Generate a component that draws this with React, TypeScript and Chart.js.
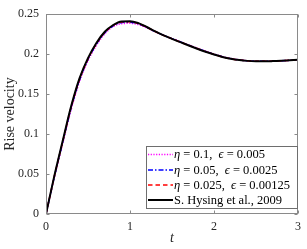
import React, { useEffect, useRef } from "react";
import { Chart, registerables } from "chart.js";

Chart.register(...registerables);

const timePoints = [0, 0.1, 0.2, 0.3, 0.4, 0.5, 0.6, 0.7, 0.8, 0.9, 1.0, 1.1, 1.2, 1.3, 1.4, 1.5, 1.6, 1.7, 1.8, 1.9, 2.0, 2.1, 2.2, 2.3, 2.4, 2.5, 2.6, 2.7, 2.8, 2.9, 3.0];

const eta01 = [0, 0.046, 0.089, 0.131, 0.166, 0.192, 0.211, 0.2255, 0.2345, 0.2382, 0.2386, 0.237, 0.233, 0.2282, 0.2237, 0.2196, 0.2156, 0.2115, 0.2075, 0.2037, 0.2002, 0.197, 0.1946, 0.1929, 0.1918, 0.1912, 0.191, 0.1912, 0.1917, 0.1922, 0.1928];
const eta005 = [0, 0.047, 0.0905, 0.133, 0.168, 0.1935, 0.2125, 0.2268, 0.2355, 0.2395, 0.2399, 0.238, 0.2335, 0.2283, 0.2236, 0.2194, 0.2153, 0.2112, 0.2072, 0.2034, 0.1999, 0.1968, 0.1944, 0.1927, 0.1917, 0.1911, 0.191, 0.1912, 0.1917, 0.1923, 0.1929];
const eta0025 = [0, 0.0475, 0.091, 0.134, 0.169, 0.194, 0.2133, 0.2274, 0.236, 0.2403, 0.2406, 0.2384, 0.2337, 0.2284, 0.2235, 0.2193, 0.2151, 0.211, 0.207, 0.2032, 0.1997, 0.1966, 0.1943, 0.1926, 0.1916, 0.1911, 0.191, 0.1913, 0.1918, 0.1924, 0.193];
const hysing2009 = [0, 0.048, 0.092, 0.135, 0.17, 0.195, 0.214, 0.228, 0.2365, 0.241, 0.2413, 0.2388, 0.234, 0.2285, 0.2235, 0.2192, 0.215, 0.2108, 0.2068, 0.203, 0.1995, 0.1965, 0.1942, 0.1926, 0.1916, 0.1911, 0.191, 0.1913, 0.1918, 0.1924, 0.193];

const seriesLabels = ["η = 0.1,  ϵ = 0.005", "η = 0.05,  ϵ = 0.0025", "η = 0.025,  ϵ = 0.00125", "S. Hysing et al., 2009"];
const xTicks = [0, 1, 2, 3];
const yTicks = [0, 0.05, 0.1, 0.15, 0.2, 0.25];
const xTitle = "t";
const yTitle = "Rise velocity";

const SERIF = "'Liberation Serif', 'DejaVu Serif', serif";
const AXIS_GRAY = "#8a8a8a";

function drawRich(ctx: CanvasRenderingContext2D, text: string, x: number, y: number, size: number) {
  let cx = x;
  const runs: { t: string; it: boolean }[] = [];
  for (const ch of text) {
    const it = /[\u03B1-\u03C9\u03F5]/.test(ch);
    if (runs.length && runs[runs.length - 1].it === it) runs[runs.length - 1].t += ch;
    else runs.push({ t: ch, it });
  }
  for (const r of runs) {
    ctx.font = `${r.it ? "italic " : ""}${size}px ${SERIF}`;
    ctx.fillText(r.t, cx, y);
    cx += ctx.measureText(r.t).width;
  }
}

const framePlugin = {
  id: "frame",
  afterDatasetsDraw(chart: any) {
    const { ctx, chartArea: a, scales } = chart;
    const xs = scales.x;
    const ys = scales.y;
    ctx.save();
    ctx.strokeStyle = AXIS_GRAY;
    ctx.lineWidth = 1;
    const L = Math.round(a.left) + 0.5;
    const R = Math.round(a.right) - 0.5;
    const T = Math.round(a.top) + 0.5;
    const B = Math.round(a.bottom) - 0.5;
    ctx.strokeRect(L, T, R - L, B - T);
    ctx.beginPath();
    for (const v of xTicks) {
      const px = Math.round(xs.getPixelForValue(v)) + 0.5;
      ctx.moveTo(px, B); ctx.lineTo(px, B - 3);
      ctx.moveTo(px, T); ctx.lineTo(px, T + 3);
    }
    for (const v of yTicks) {
      const py = Math.round(ys.getPixelForValue(v)) + 0.5;
      ctx.moveTo(L, py); ctx.lineTo(L + 3, py);
      ctx.moveTo(R, py); ctx.lineTo(R - 3, py);
    }
    ctx.stroke();

    // legend box
    const bx = 146.5, by = 146.5, bw = 151, bh = 62;
    ctx.fillStyle = "#ffffff";
    ctx.fillRect(bx, by, bw, bh);
    ctx.strokeStyle = "#6e6e6e";
    ctx.strokeRect(bx, by, bw, bh);
    const rowY = [154.5, 170, 185, 200];
    chart.data.datasets.forEach((ds: any, i: number) => {
      const y = rowY[i];
      ctx.save();
      ctx.strokeStyle = ds.borderColor;
      ctx.lineWidth = ds.borderWidth;
      ctx.setLineDash(ds.borderDash || []);
      ctx.beginPath();
      ctx.moveTo(148, y);
      ctx.lineTo(173, y);
      ctx.stroke();
      ctx.restore();
      ctx.fillStyle = "#000000";
      ctx.textBaseline = "middle";
      ctx.textAlign = "left";
      drawRich(ctx, ds.label, 174, y + 0.5, 12.5);
    });
    ctx.restore();
  },
};

export default function App() {
  const ref = useRef<HTMLCanvasElement | null>(null);
  useEffect(() => {
    if (!ref.current) return;
    const mk = (label: string, data: number[], color: string, width: number, dash: number[], order: number) => ({
      label,
      data: timePoints.map((t, i) => ({ x: t, y: data[i] })),
      borderColor: color,
      backgroundColor: color,
      borderWidth: width,
      borderDash: dash,
      pointRadius: 0,
      fill: false,
      cubicInterpolationMode: "monotone" as const,
      order,
    });
    const chart = new Chart(ref.current, {
      type: "line",
      data: {
        datasets: [
          mk(seriesLabels[0], eta01, "#ff00ff", 1.5, [1.2, 1.5], 4),
          mk(seriesLabels[1], eta005, "#0000ff", 1.5, [5, 2, 1.5, 2], 3),
          mk(seriesLabels[2], eta0025, "#ff0000", 1.5, [4.5, 3], 2),
          mk(seriesLabels[3], hysing2009, "#000000", 2, [], 1),
        ],
      },
      options: {
        responsive: false,
        animation: false,
        events: [],
        layout: { padding: { top: 6, right: 3, left: 0, bottom: 0 } },
        plugins: { legend: { display: false }, tooltip: { enabled: false } },
        scales: {
          x: {
            type: "linear",
            min: 0,
            max: 3,
            afterBuildTicks: (s: any) => { s.ticks = xTicks.map((v) => ({ value: v })); },
            afterFit: (s: any) => { s.height = 35; },
            grid: { display: false, drawTicks: false },
            border: { display: false },
            ticks: { color: "#262626", font: { family: SERIF, size: 12 }, padding: 6, maxRotation: 0 },
            title: { display: true, text: xTitle, color: "#262626", font: { family: SERIF, size: 14, style: "italic" }, padding: { top: 0, bottom: 2 } },
          },
          y: {
            type: "linear",
            min: 0,
            max: 0.25,
            afterBuildTicks: (s: any) => { s.ticks = yTicks.map((v) => ({ value: v })); },
            afterFit: (s: any) => { s.width = 46; },
            grid: { display: false, drawTicks: false },
            border: { display: false },
            ticks: { color: "#262626", font: { family: SERIF, size: 12 }, padding: 7, callback: (v: any) => String(Number(v)) },
            title: { display: true, text: yTitle, color: "#262626", font: { family: SERIF, size: 14 }, padding: { top: 2, bottom: 0 } },
          },
        },
      },
      plugins: [framePlugin],
    });
    return () => chart.destroy();
  }, []);
  return (
    <div style={{ position: "fixed", left: 0, top: 0, width: 307, height: 249, background: "#fff" }}>
      <canvas ref={ref} width={307} height={249} style={{ width: 307, height: 249, display: "block" }} />
    </div>
  );
}
